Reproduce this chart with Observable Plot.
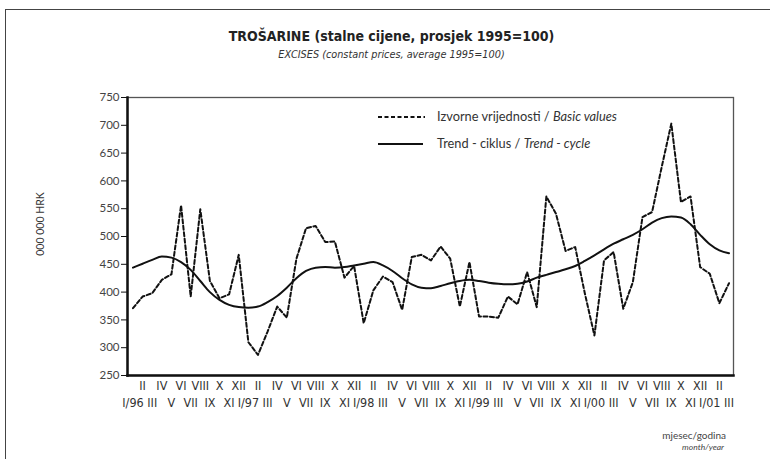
<!DOCTYPE html>
<html><head><meta charset="utf-8">
<script src="https://cdn.jsdelivr.net/npm/d3@7"></script>
<script src="https://cdn.jsdelivr.net/npm/@observablehq/plot@0.6"></script>
<style>
body{margin:0;background:#fff;}
#wrap{position:relative;width:770px;height:459px;overflow:hidden;background:#fff;color:#333;font-family:Lato,"Open Sans",sans-serif;}
#frameBorder{position:absolute;left:5px;top:9px;width:900px;height:600px;border-left:1px solid #444;border-top:1px solid #444;}
#chart{position:absolute;left:0;top:0;}
.t{position:absolute;white-space:nowrap;}
#title{left:0;width:783px;text-align:center;top:28px;font-family:"Liberation Sans Narrow","DejaVu Sans Condensed",sans-serif;font-weight:bold;font-size:14px;color:#222;}
#subtitle{left:0;width:783px;text-align:center;top:48px;font-family:"Liberation Sans Narrow","DejaVu Sans Condensed",sans-serif;font-style:italic;font-size:10.8px;color:#333;}
#ylab{left:40px;top:224px;transform:translate(-50%,-50%) rotate(-90deg);font-size:10.5px;color:#333;}
#xcap1{right:44px;top:429px;font-size:10px;color:#444;}
#xcap2{right:46px;top:442px;font-size:8.5px;font-style:italic;color:#444;}
#legend{position:absolute;left:375px;top:106px;}
.lg{position:absolute;left:0;height:22px;white-space:nowrap;font-size:12.8px;color:#333;}
.lg svg{position:absolute;left:0;top:0;}
.lg span{position:absolute;left:62px;top:2px;}
</style></head><body>
<div id="wrap">
  <div id="frameBorder"></div>
  <div id="chart"></div>
  <div class="t" id="title">TROŠARINE (stalne cijene, prosjek 1995=100)</div>
  <div class="t" id="subtitle">EXCISES (constant prices, average 1995=100)</div>
  <div class="t" id="ylab">000 000 HRK</div>
  <div class="t" id="xcap1">mjesec/godina</div>
  <div class="t" id="xcap2">month/year</div>
  <div id="legend">
    <div class="lg" style="top:0px"><svg width="55" height="22"><line x1="3" x2="50" y1="11" y2="11" stroke="#111" stroke-width="2" stroke-dasharray="4,2.5"/></svg><span>Izvorne vrijednosti / <i>Basic values</i></span></div>
    <div class="lg" style="top:27px"><svg width="55" height="22"><line x1="3" x2="48" y1="11" y2="11" stroke="#111" stroke-width="2"/></svg><span>Trend - ciklus / <i>Trend - cycle</i></span></div>
  </div>
</div>
<script>
// Month labels, I/1996 .. III/2001
const xLabels = [
  "I/96","II","III","IV","V","VI","VII","VIII","IX","X","XI","XII",
  "I/97","II","III","IV","V","VI","VII","VIII","IX","X","XI","XII",
  "I/98","II","III","IV","V","VI","VII","VIII","IX","X","XI","XII",
  "I/99","II","III","IV","V","VI","VII","VIII","IX","X","XI","XII",
  "I/00","II","III","IV","V","VI","VII","VIII","IX","X","XI","XII",
  "I/01","II","III"
];
// Izvorne vrijednosti / Basic values
const basicValues = [
  371,392,398,422,432,556,392,549,420,389,396,467,
  310,287,329,374,354,460,515,519,490,491,426,447,
  344,403,428,418,368,463,467,457,482,460,374,454,
  356,356,354,392,378,436,373,572,541,474,481,398,
  322,457,472,370,418,535,544,625,703,562,572,445,
  433,380,416
];
// Trend - ciklus / Trend - cycle
const trendCycle = [
  444,451,458,464,462,454,440,420,400,386,377,373,
  372,374,382,393,408,425,438,444,445,444,445,448,
  451,454,448,438,425,414,408,407,411,416,420,422,
  420,417,415,414,415,419,426,431,436,441,447,456,
  466,477,487,495,503,513,525,533,536,534,522,503,
  486,475,470
];
const yTicks = [250,300,350,400,450,500,550,600,650,700,750];

const idx = xLabels.map((_, i) => i);
const basic = idx.map(i => ({m: i, v: basicValues[i]}));
const trend = idx.map(i => ({m: i, v: trendCycle[i]}));
const rowTop = idx.filter(i => i % 2 === 1);
const rowBottom = idx.filter(i => i % 2 === 0);
const axisFont = {fontFamily: "'Liberation Sans Narrow','DejaVu Sans Condensed',sans-serif", fontSize: 12.5, fill: "#333"};

const chart = Plot.plot({
  width: 770,
  height: 459,
  marginTop: 97,
  marginBottom: 84,
  marginLeft: 127,
  marginRight: 37,
  insetLeft: 5.5,
  insetRight: 4.5,
  style: {background: "transparent", fontFamily: "Lato, 'Open Sans', sans-serif", color: "#333"},
  x: {type: "linear", domain: [0, xLabels.length - 1]},
  y: {domain: [250, 750]},
  marks: [
    Plot.frame({stroke: "#555", strokeWidth: 1.3}),
    Plot.frame({anchor: "left", stroke: "#111", strokeWidth: 2.5}),
    Plot.frame({anchor: "bottom", stroke: "#111", strokeWidth: 2.5}),
    Plot.axisY({ticks: yTicks, tickSize: 6, tickPadding: 2, label: null, fontSize: 11.5, fill: "#444", stroke: "#111"}),
    Plot.axisX({ticks: rowTop, tickFormat: i => xLabels[i], tickSize: 0, tickPadding: 6, label: null, ...axisFont}),
    Plot.axisX({ticks: rowBottom, tickFormat: i => xLabels[i], tickSize: 0, tickPadding: 23, label: null, ...axisFont}),
    Plot.line(trend, {x: "m", y: "v", stroke: "#111", strokeWidth: 2, curve: "monotone-x"}),
    Plot.line(basic, {x: "m", y: "v", stroke: "#111", strokeWidth: 2, strokeDasharray: "4,2.5"})
  ]
});
document.getElementById("chart").appendChild(chart);
</script>
</body></html>
